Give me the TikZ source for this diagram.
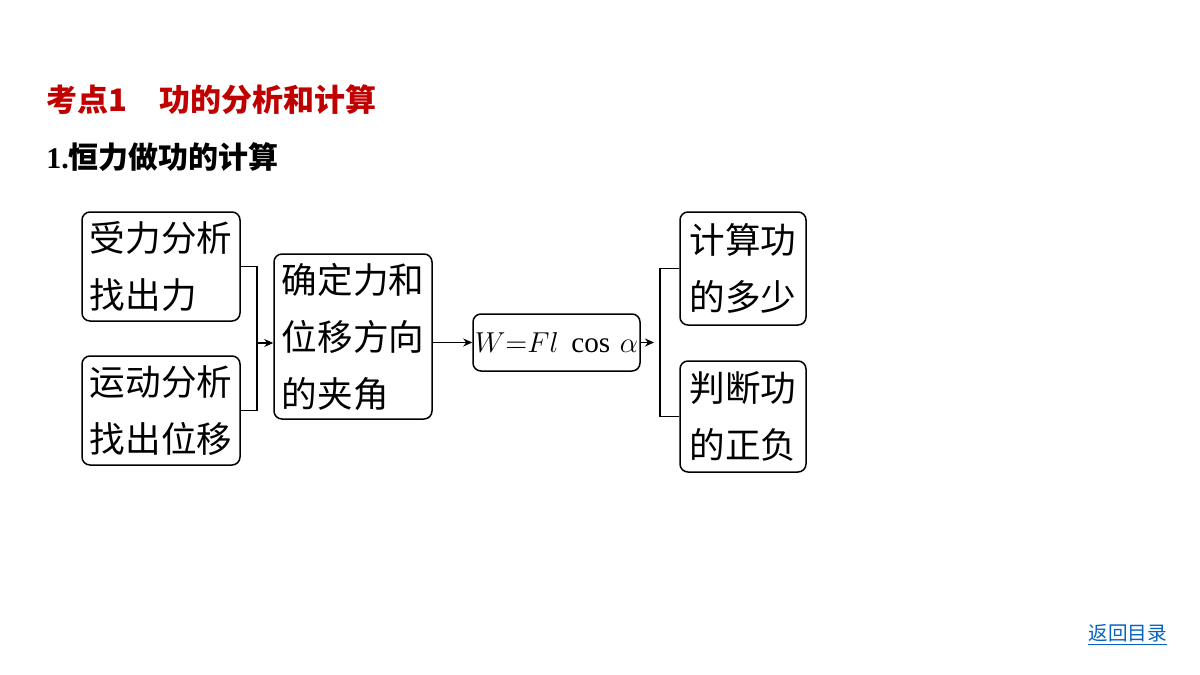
\documentclass[tikz,border=0pt]{standalone}
\usepackage{fontspec}
\setmainfont{Liberation Serif}
\newfontfamily\cjk{Noto Sans CJK SC}
\usetikzlibrary{arrows.meta}
\definecolor{titlered}{HTML}{C00000}
\definecolor{linkblue}{HTML}{0563C1}
\tikzset{
  box/.style={draw, line width=0.75pt, rounded corners=4pt, inner sep=0pt,
    align=left, font=\cjk\fontsize{17.8}{28.5}\selectfont},
  conn/.style={line width=0.75pt},
  arr/.style={conn, -{Stealth[length=4.5pt,width=4pt]}},
}
\begin{document}
\begin{tikzpicture}[x=0.5pt,y=-0.5pt]
\useasboundingbox (0,0) rectangle (1200,675);
% titles
\node[anchor=west, inner sep=0pt, text=titlered, font=\cjk\bfseries\fontsize{15.5}{18}\selectfont]
  (t1) at (46,100) {考点1\hspace{1.05em}功的分析和计算};
\node[anchor=west, inner sep=0pt, font=\bfseries\fontsize{15}{18}\selectfont]
  (t2) at (46,157) {1.{\cjk 恒力做功的计算}};
% boxes
\node[box, minimum width=79pt, minimum height=54.5pt] (A) at (161,266.5) {受力分析\\找出力};
\node[box, minimum width=79pt, minimum height=54.5pt] (B) at (161,410.5) {运动分析\\找出位移};
\node[box, minimum width=79pt, minimum height=82.5pt] (C) at (353,336.5) {确定力和\\位移方向\\的夹角};
\node[box, minimum width=83.5pt, minimum height=28.5pt, font=\fontsize{14.6}{18}\selectfont] (D) at (556.5,342.5)
  {$W{=}Fl\;\cos\,\alpha$};
\node[box, minimum width=63pt, minimum height=56.5pt] (E) at (743,268.5) {计算功\\的多少};
\node[box, minimum width=63pt, minimum height=55.5pt] (F) at (743,416.5) {判断功\\的正负};
% connectors
\coordinate (j1) at (257,343);
\coordinate (j2) at (660,342.5);
\coordinate (j2tip) at (654,342.5);
\draw[conn] (A.east) -| (j1);
\draw[conn] (B.east) -| (j1);
\draw[arr] (j1) -- (j1 -| C.west);
\draw[arr] (C.east |- D.west) -- (D.west);
\draw[arr] (D.east) -- (j2tip);
\draw[conn] (E.west) -| (j2);
\draw[conn] (F.west) -| (j2);
% link
\node[anchor=west, inner sep=0pt, text=linkblue, font=\cjk\fontsize{9.8}{12}\selectfont]
  (link) at (1088,635) {\underline{返回目录}};
\end{tikzpicture}
\end{document}
